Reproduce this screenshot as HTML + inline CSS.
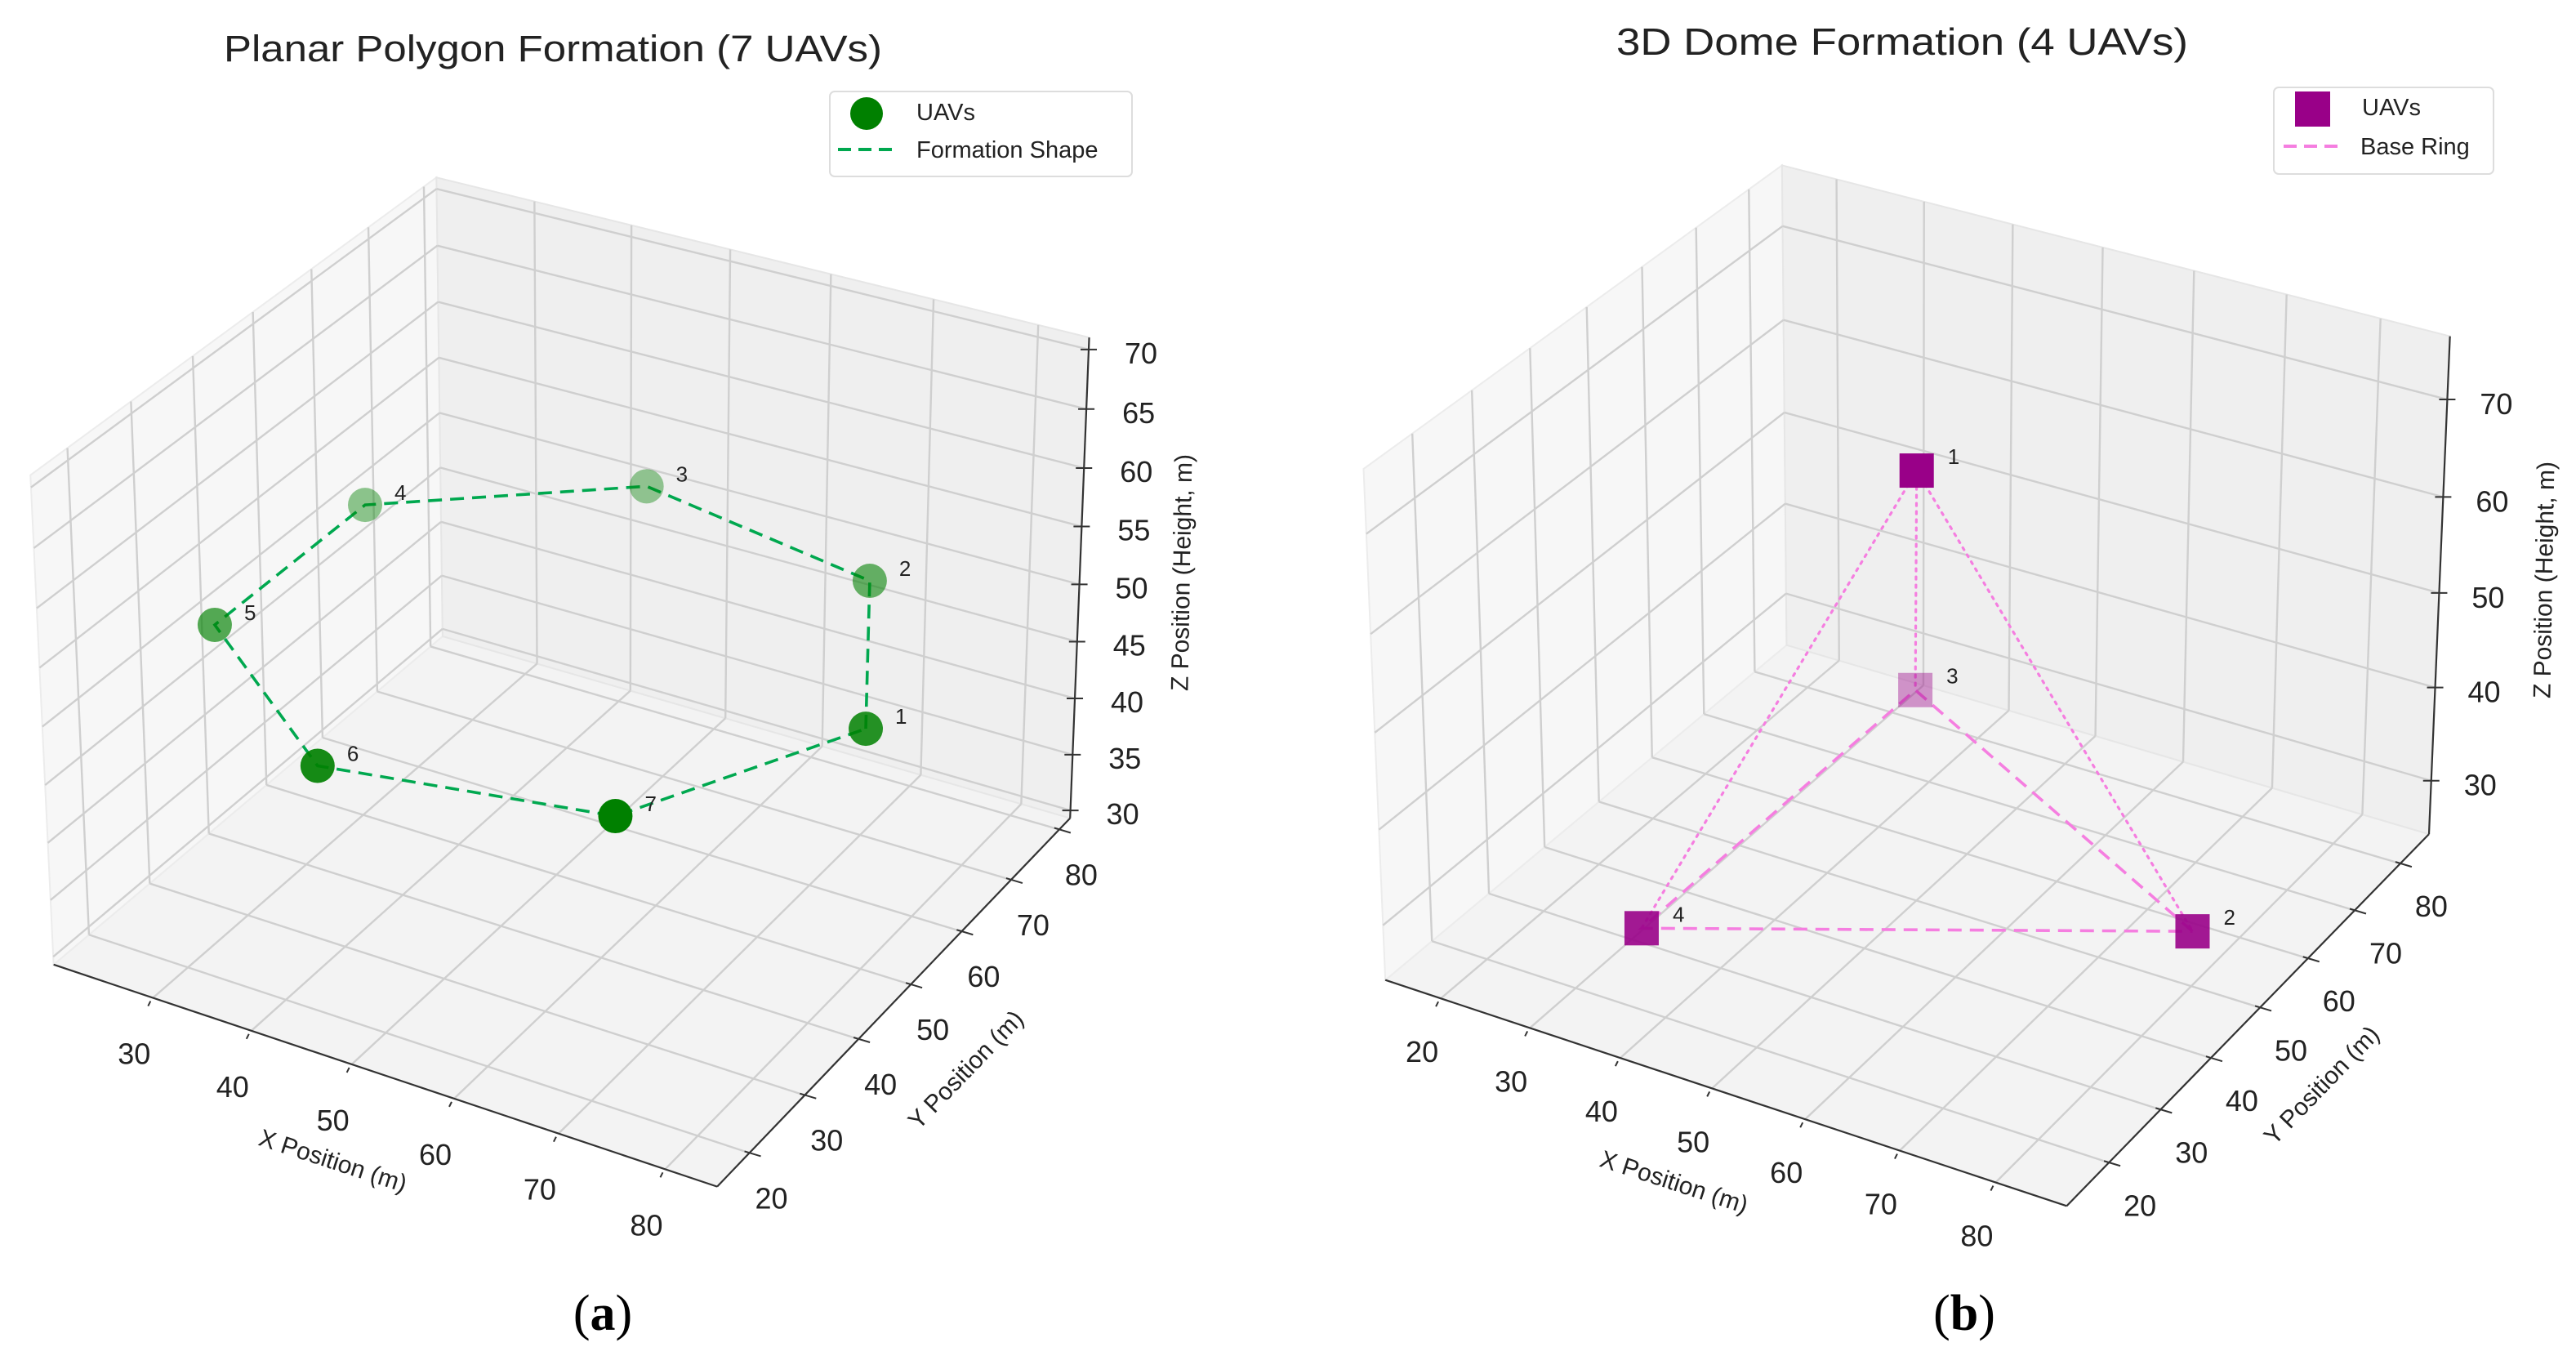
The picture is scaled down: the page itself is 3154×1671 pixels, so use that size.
<!DOCTYPE html>
<html><head><meta charset="utf-8"><style>
html,body{margin:0;padding:0;background:#fff;}
svg{display:block;font-family:"Liberation Sans",sans-serif;}
</style></head><body>
<svg id="fig" xmlns="http://www.w3.org/2000/svg" width="3154" height="1671" viewBox="0 0 3154 1671">
<rect x="0" y="0" width="3154" height="1671" fill="#fff"/>
<text x="677" y="75" font-size="45" fill="#222" text-anchor="middle" textLength="806" lengthAdjust="spacingAndGlyphs">Planar Polygon Formation (7 UAVs)</text>
<text x="2329" y="67" font-size="46" fill="#222" text-anchor="middle" textLength="700" lengthAdjust="spacingAndGlyphs">3D Dome Formation (4 UAVs)</text>
<text x="738" y="1628" font-size="62" font-family="Liberation Serif, serif" text-anchor="middle" fill="#000">(<tspan font-weight="bold">a</tspan>)</text>
<text x="2405" y="1628" font-size="62" font-family="Liberation Serif, serif" text-anchor="middle" fill="#000">(<tspan font-weight="bold">b</tspan>)</text>
<g id="plotA"></g>
<g id="plotB"></g>
<g>
<rect x="1016" y="112" width="370" height="104" rx="6" fill="#fff" fill-opacity="0.85" stroke="#dddddd" stroke-width="2"/>
<circle cx="1061" cy="139" r="20" fill="#008000"/>
<text x="1122" y="147" font-size="29" fill="#222">UAVs</text>
<line x1="1026" y1="183" x2="1097" y2="183" stroke="#00a84f" stroke-width="4" stroke-dasharray="16,9"/>
<text x="1122" y="193" font-size="29" fill="#222">Formation Shape</text>
</g>
<g>
<rect x="2784" y="107" width="269" height="106" rx="6" fill="#fff" fill-opacity="0.85" stroke="#dddddd" stroke-width="2"/>
<rect x="2810" y="112" width="43" height="43" fill="#990088"/>
<text x="2892" y="141" font-size="29" fill="#222">UAVs</text>
<line x1="2796" y1="179" x2="2867" y2="179" stroke="#f57ee0" stroke-width="4" stroke-dasharray="16,9"/>
<text x="2890" y="189" font-size="29" fill="#222">Base Ring</text>
</g>
</svg>
<script>
// ---- Plot A data (planar heptagon) ----
const aIds = ['1','2','3','4','5','6','7'];
const aX = [80, 68.7, 43.3, 23.0, 23.0, 43.3, 68.7];
const aY = [50, 73.5, 79.2, 63.0, 37.0, 20.8, 26.5];
const aZ = [50, 50, 50, 50, 50, 50, 50];
const aXTicks = [30, 40, 50, 60, 70, 80];
const aYTicks = [20, 30, 40, 50, 60, 70, 80];
const aZTicks = [30, 35, 40, 45, 50, 55, 60, 65, 70];
// ---- Plot B data (dome) ----
const bIds = ['1','2','3','4'];
const bX = [50, 80, 35, 35];
const bY = [50, 50, 76, 24];
const bZ = [69, 30, 30, 30];
const bRing = [1, 2, 3, 1];
const bApexLinks = [1, 2, 3];
const bXTicks = [20, 30, 40, 50, 60, 70, 80];
const bYTicks = [20, 30, 40, 50, 60, 70, 80];
const bZTicks = [30, 40, 50, 60, 70];

const NS = 'http://www.w3.org/2000/svg';
function mk(tag, attrs, parent){ const e=document.createElementNS(NS,tag); for(const k in attrs) e.setAttribute(k, attrs[k]); parent.appendChild(e); return e; }

function solve(A,b){
  const n=b.length; const M=A.map((r,i)=>r.concat([b[i]]));
  for(let c=0;c<n;c++){
    let p=c; for(let r=c+1;r<n;r++) if(Math.abs(M[r][c])>Math.abs(M[p][c])) p=r;
    [M[c],M[p]]=[M[p],M[c]];
    for(let r=0;r<n;r++){ if(r===c) continue; const f=M[r][c]/M[c][c]; for(let k=c;k<=n;k++) M[r][k]-=f*M[c][k]; }
  }
  return M.map((r,i)=>r[n]/r[i]);
}
function fitCamera(pts){
  const rows=[], rhs=[];
  pts.forEach(([u,v,w,sx,sy])=>{
    rows.push([u,v,w,1,0,0,0,0,-sx*u,-sx*v,-sx*w]); rhs.push(sx);
    rows.push([0,0,0,0,u,v,w,1,-sy*u,-sy*v,-sy*w]); rhs.push(sy);
  });
  const AtA=[],Atb=[];
  for(let i=0;i<11;i++){ AtA.push(new Array(11).fill(0)); Atb.push(0); }
  rows.forEach((r,k)=>{ for(let i=0;i<11;i++){ Atb[i]+=r[i]*rhs[k]; for(let j=0;j<11;j++) AtA[i][j]+=r[i]*r[j]; } });
  return solve(AtA,Atb);
}

function drawPlot(g, cfg){
  const L=cfg.lim;
  const cam=fitCamera(cfg.corners);
  const nrm=(x,y,z)=>[(x-L.x[0])/(L.x[1]-L.x[0]),(y-L.y[0])/(L.y[1]-L.y[0]),(z-L.z[0])/(L.z[1]-L.z[0])];
  const P=(x,y,z)=>{ const [u,v,w]=nrm(x,y,z); const d=cam[8]*u+cam[9]*v+cam[10]*w+1;
    return [(cam[0]*u+cam[1]*v+cam[2]*w+cam[3])/d,(cam[4]*u+cam[5]*v+cam[6]*w+cam[7])/d]; };
  const depth=(x,y,z)=>{ const [u,v,w]=nrm(x,y,z); return 0.433*4*u-0.75*4*v+0.5*3*w; };
  const poly=(pts)=>pts.map(p=>p.join(',')).join(' ');
  const [x0,x1]=L.x,[y0,y1]=L.y,[z0,z1]=L.z;
  const floor=mk('polygon',{points:poly([P(x0,y0,z0),P(x1,y0,z0),P(x1,y1,z0),P(x0,y1,z0)]),fill:'#f3f3f3',stroke:'#e8e8e8','stroke-width':2},g);
  
  
  const lw=mk('polygon',{points:poly([P(x0,y0,z0),P(x0,y1,z0),P(x0,y1,z1),P(x0,y0,z1)]),fill:'#f7f7f7',stroke:'#ececec','stroke-width':2},g);
  
  
  const bw=mk('polygon',{points:poly([P(x0,y1,z0),P(x1,y1,z0),P(x1,y1,z1),P(x0,y1,z1)]),fill:'#efefef',stroke:'#e6e6e6','stroke-width':2},g);
  
  
  const gl=(a,b)=>{ const l=mk('line',{x1:a[0],y1:a[1],x2:b[0],y2:b[1],stroke:'#cfcfcf','stroke-width':2.4},g);
    
     };
  cfg.xt.forEach(x=>{ gl(P(x,y0,z0),P(x,y1,z0)); gl(P(x,y1,z0),P(x,y1,z1)); });
  cfg.yt.forEach(y=>{ gl(P(x0,y,z0),P(x1,y,z0)); gl(P(x0,y,z0),P(x0,y,z1)); });
  cfg.zt.forEach(z=>{ gl(P(x0,y0,z),P(x0,y1,z)); gl(P(x0,y1,z),P(x1,y1,z)); });
  const ax=(a,b,name)=>{ const l=mk('line',{x1:a[0],y1:a[1],x2:b[0],y2:b[1],stroke:'#333','stroke-width':2.2},g);
    
     };
  ax(P(x0,y0,z0),P(x1,y0,z0),'x-axis-line');
  ax(P(x1,y0,z0),P(x1,y1,z0),'y-axis-line');
  ax(P(x1,y1,z0),P(x1,y1,z1),'z-axis-line');
  const tick=(p,dx,dy,ex,ey)=>{ const l=mk('line',{x1:p[0]-dx,y1:p[1]-dy,x2:p[0]+ex,y2:p[1]+ey,stroke:'#333','stroke-width':2},g);
    
     };
  const lab=(p,txt,name)=>{ const t=mk('text',{x:p[0],y:p[1]+12,'font-size':36,fill:'#222','text-anchor':'middle'},g); t.textContent=txt;
    
     };
  cfg.xt.forEach(x=>{ const p=P(x,y0,z0); tick(p,3,-4,-6,10); lab([p[0]+cfg.xo[0],p[1]+cfg.xo[1]],String(x),'x-tick-label'); });
  cfg.yt.forEach(y=>{ const p=P(x1,y,z0); tick(p,6,2,14,4); lab([p[0]+cfg.yo[0],p[1]+cfg.yo[1]],String(y),'y-tick-label'); });
  cfg.zt.forEach(z=>{ const p=P(x1,y1,z); tick(p,10,0,10,0); lab([p[0]+cfg.zo[0],p[1]+cfg.zo[1]],String(z),'z-tick-label'); });
  const alab=(pos,rot,txt,name)=>{ const t=mk('text',{x:pos[0],y:pos[1],'font-size':30,fill:'#222','text-anchor':'middle','dominant-baseline':'middle',transform:`rotate(${rot} ${pos[0]} ${pos[1]})`},g); t.textContent=txt;
    
     };
  alab(cfg.xl,18,'X Position (m)','x-axis-title');
  alab(cfg.yl,-46,'Y Position (m)','y-axis-title');
  alab(cfg.zl,-89,'Z Position (Height, m)','z-axis-title');
  return {P,depth};
}

function alphas(depth, X, Y, Z){
  const t=X.map((x,i)=>depth(x,Y[i],Z[i])); const mn=Math.min(...t), mx=Math.max(...t);
  return t.map(v=>0.4+0.6*((v-mn)/(mx-mn||1)));
}

(function(){
  const g=document.getElementById('plotA');
  const r=drawPlot(g,{
    lim:{x:[19.7,84.8],y:[14.3,82.3],z:[29.3,71.0]},
    corners:[[0,0,0,65,1182],[1,0,0,880,1450],[1,1,0,1309,1007],[0,1,0,542,775],[0,0,1,36,583],[0,1,1,536,219],[1,1,1,1333,410]],
    xt:aXTicks, yt:aYTicks, zt:aZTicks, xo:[-23,69], yo:[27,56], zo:[64,5],
    xl:[407,1423], yl:[1184,1311], zl:[1449,701]
  });
  const pts=aX.map((x,i)=>r.P(x,aY[i],aZ[i]));
  const path=mk('polygon',{points:pts.map(p=>p.join(',')).join(' '),fill:'none',stroke:'#00a84f','stroke-width':3.6,'stroke-dasharray':'17,10'},g);
  
  
  const al=alphas(r.depth,aX,aY,aZ);
  const order=aX.map((_,i)=>i).sort((a,b)=>al[a]-al[b]);
  order.forEach(i=>{
    const c=mk('circle',{cx:pts[i][0],cy:pts[i][1],r:21,fill:'#008000','fill-opacity':al[i]},g);
    
    
  });
  aIds.forEach((id,i)=>{
    const t=mk('text',{x:pts[i][0]+36,y:pts[i][1]-6,'font-size':26,fill:'#222'},g); t.textContent=id;
    
    
  });
})();

(function(){
  const g=document.getElementById('plotB');
  const r=drawPlot(g,{
    lim:{x:[13.7,87.3],y:[12.0,86.4],z:[24.2,76.4]},
    corners:[[0,0,0,1697,1202],[1,0,0,2530,1475],[1,1,0,2974,1023],[0,1,0,2187,787],[0,0,1,1669,573],[0,1,1,2182,204],[1,1,1,3000,411]],
    xt:bXTicks, yt:bYTicks, zt:bZTicks, xo:[-23,66], yo:[38,53], zo:[60,6],
    xl:[2049,1449], yl:[2844,1330], zl:[3117,710]
  });
  const pts=bX.map((x,i)=>r.P(x,bY[i],bZ[i]));
  bApexLinks.forEach(j=>{
    const l=mk('line',{x1:pts[0][0],y1:pts[0][1],x2:pts[j][0],y2:pts[j][1],stroke:'#f57ee0','stroke-width':3.2,'stroke-dasharray':'3,7','stroke-linecap':'round'},g);
    
    
  });
  const ring=mk('polyline',{points:bRing.map(i=>pts[i].join(',')).join(' '),fill:'none',stroke:'#f57ee0','stroke-width':3.6,'stroke-dasharray':'17,10'},g);
  
  
  const al=alphas(r.depth,bX,bY,bZ);
  const order=bX.map((_,i)=>i).sort((a,b)=>al[a]-al[b]);
  order.forEach(i=>{
    const s=mk('rect',{x:pts[i][0]-21,y:pts[i][1]-21,width:42,height:42,fill:'#990088','fill-opacity':al[i]},g);
    
    
  });
  bIds.forEach((id,i)=>{
    const t=mk('text',{x:pts[i][0]+38,y:pts[i][1]-8,'font-size':26,fill:'#222'},g); t.textContent=id;
    
    
  });
})();
</script>
</body></html>
